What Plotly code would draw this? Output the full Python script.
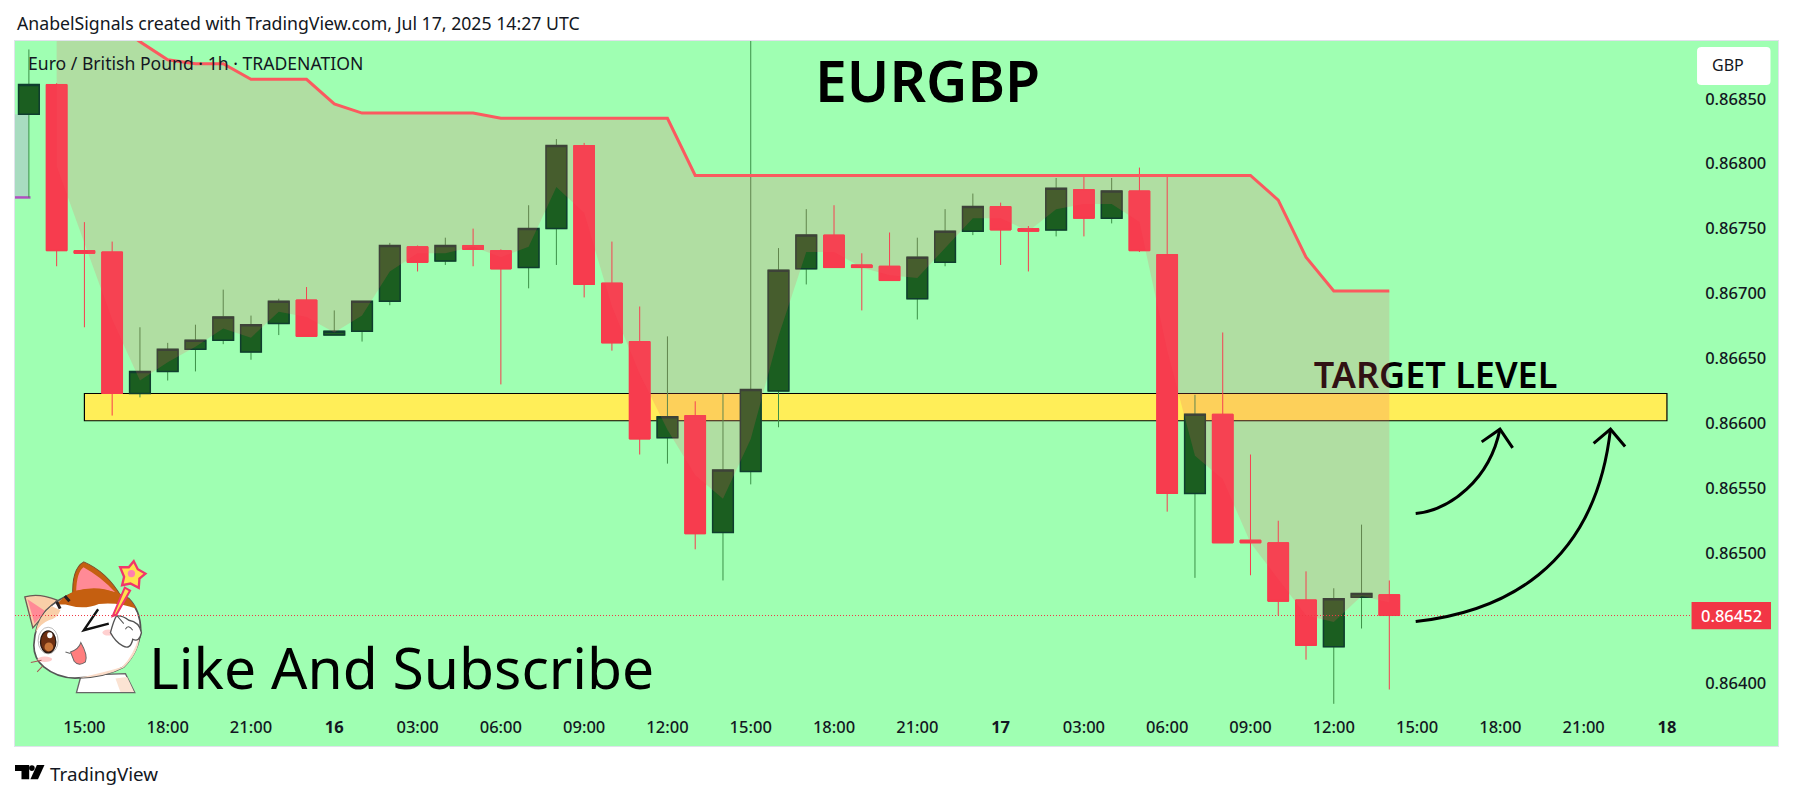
import base64
import pandas as pd
import plotly.graph_objects as go

# hourly candles, first one is Jul 15 13:00 UTC
start_time = "2025-07-15 13:00"
open_vals = [0.86838, 0.86861, 0.86733, 0.86732, 0.86623, 0.86640, 0.86657, 0.86664, 0.86655, 0.86677,
             0.86695, 0.86668, 0.86671, 0.86694, 0.86736, 0.86725, 0.86737, 0.86733, 0.86720, 0.86750,
             0.86814, 0.86708, 0.86663, 0.86589, 0.86606, 0.86516, 0.86563, 0.86625, 0.86719, 0.86745,
             0.86722, 0.86721, 0.86696, 0.86724, 0.86748, 0.86767, 0.86750, 0.86749, 0.86780, 0.86758,
             0.86779, 0.86730, 0.86546, 0.86607, 0.86510, 0.86508, 0.86464, 0.86428, 0.86466, 0.86468]
high_vals = [0.86888, 0.86862, 0.86755, 0.86740, 0.86674, 0.86662, 0.86676, 0.86703, 0.86683, 0.86696,
             0.86705, 0.86687, 0.86694, 0.86739, 0.86737, 0.86743, 0.86750, 0.86734, 0.86768, 0.86819,
             0.86816, 0.86740, 0.86690, 0.86667, 0.86617, 0.86623, 0.86900, 0.86735, 0.86765, 0.86768,
             0.86731, 0.86747, 0.86743, 0.86765, 0.86777, 0.86770, 0.86752, 0.86789, 0.86791, 0.86789,
             0.86797, 0.86791, 0.86622, 0.86670, 0.86576, 0.86525, 0.86486, 0.86473, 0.86522, 0.86479]
low_vals = [0.86774, 0.86721, 0.86674, 0.86606, 0.86620, 0.86633, 0.86640, 0.86661, 0.86649, 0.86668,
            0.86667, 0.86668, 0.86663, 0.86691, 0.86717, 0.86722, 0.86721, 0.86630, 0.86704, 0.86722,
            0.86697, 0.86656, 0.86576, 0.86569, 0.86503, 0.86479, 0.86553, 0.86597, 0.86707, 0.86720,
            0.86687, 0.86710, 0.86680, 0.86721, 0.86745, 0.86722, 0.86717, 0.86744, 0.86744, 0.86754,
            0.86732, 0.86532, 0.86481, 0.86508, 0.86483, 0.86452, 0.86418, 0.86384, 0.86442, 0.86395]
close_vals = [0.86861, 0.86733, 0.86731, 0.86623, 0.86640, 0.86657, 0.86664, 0.86682, 0.86676, 0.86694,
              0.86667, 0.86671, 0.86694, 0.86737, 0.86724, 0.86737, 0.86734, 0.86719, 0.86750, 0.86814,
              0.86707, 0.86662, 0.86588, 0.86605, 0.86515, 0.86564, 0.86626, 0.86718, 0.86745, 0.86720,
              0.86720, 0.86710, 0.86728, 0.86748, 0.86767, 0.86749, 0.86748, 0.86781, 0.86758, 0.86779,
              0.86733, 0.86546, 0.86607, 0.86508, 0.86508, 0.86463, 0.86429, 0.86465, 0.86469, 0.86452]

# red line and the lower edge of the shaded area, these start at the second candle
upper_line = [0.86940, 0.86920, 0.86909, 0.86894, 0.86880, 0.86877, 0.86877, 0.86865, 0.86865, 0.86865,
              0.86846, 0.86839, 0.86839, 0.86839, 0.86839, 0.86839, 0.86835, 0.86835, 0.86835, 0.86835,
              0.86835, 0.86835, 0.86835, 0.86791, 0.86791, 0.86791, 0.86791, 0.86791, 0.86791, 0.86791,
              0.86791, 0.86791, 0.86791, 0.86791, 0.86791, 0.86791, 0.86791, 0.86791, 0.86791, 0.86791,
              0.86791, 0.86791, 0.86791, 0.86791, 0.86772, 0.86728, 0.86702, 0.86702, 0.86702]
lower_edge = [0.86798, 0.86739, 0.86680, 0.86633, 0.86647, 0.86659, 0.86673, 0.86666, 0.86686, 0.86682,
              0.86670, 0.86683, 0.86717, 0.86731, 0.86731, 0.86736, 0.86728, 0.86736, 0.86782, 0.86762,
              0.86690, 0.86638, 0.86595, 0.86560, 0.86542, 0.86588, 0.86667, 0.86732, 0.86732, 0.86720,
              0.86714, 0.86712, 0.86735, 0.86758, 0.86758, 0.86748, 0.86765, 0.86769, 0.86769, 0.86755,
              0.86656, 0.86575, 0.86557, 0.86508, 0.86480, 0.86452, 0.86447, 0.86467, 0.86462]

price_ticks = [0.864, 0.865, 0.8655, 0.866, 0.8665, 0.867, 0.8675, 0.868, 0.8685]
time_ticks = ["2025-07-15 15:00", "2025-07-15 18:00", "2025-07-15 21:00", "2025-07-16 00:00", "2025-07-16 03:00",
              "2025-07-16 06:00", "2025-07-16 09:00", "2025-07-16 12:00", "2025-07-16 15:00", "2025-07-16 18:00",
              "2025-07-16 21:00", "2025-07-17 00:00", "2025-07-17 03:00", "2025-07-17 06:00", "2025-07-17 09:00",
              "2025-07-17 12:00", "2025-07-17 15:00", "2025-07-17 18:00", "2025-07-17 21:00", "2025-07-18 00:00"]
time_labels = ["15:00", "18:00", "21:00", "<b>16</b>", "03:00", "06:00", "09:00", "12:00", "15:00", "18:00",
               "21:00", "<b>17</b>", "03:00", "06:00", "09:00", "12:00", "15:00", "18:00", "21:00", "<b>18</b>"]

last_price = 0.86452
zone_top = 0.86623
zone_bottom = 0.86602
zone_start = "2025-07-15 15:00"
zone_end = "2025-07-18 00:00"

GREEN_BG = "#9fffb2"
RED = "#f73c4e"
FONT = "Noto Sans"
TEXT = "#131722"

W, H = 1793, 799
L, T, R, B = 14.5, 41, 1778.5, 745.7


# pixel position on the page to paper coordinates
def px(x):
    return (x - L) / (R - L)


def py(y):
    return (B - y) / (B - T)


def poly(points):
    return "M " + " L ".join(f"{px(x):.5f},{py(y):.5f}" for x, y in points)


def curve(start, c1, c2, end):
    return (f"M {px(start[0]):.5f},{py(start[1]):.5f} C {px(c1[0]):.5f},{py(c1[1]):.5f} "
            f"{px(c2[0]):.5f},{py(c2[1]):.5f} {px(end[0]):.5f},{py(end[1]):.5f}")


def page_text(text, x, y, size, color=TEXT, anchor="left", weight=400):
    return dict(text=text, x=px(x), y=py(y), xref="paper", yref="paper", showarrow=False,
                xanchor=anchor, yanchor="middle", font=dict(family=FONT, size=size, color=color, weight=weight))


# the sticker, coordinates are in its own box
cat_svg = """<svg xmlns="http://www.w3.org/2000/svg" viewBox="0 0 420 435" preserveAspectRatio="none">
<path d="M197 360 L183 412 L358 412 L330 355 Z" fill="#fff" stroke="#666" stroke-width="4"/>
<path d="M300 370 Q325 365 335 365 L356 410 L315 410 Z" fill="#fbe3d3"/>
<path d="M52 218 L28 125 Q70 112 125 135 Z" fill="#f9cfa8" stroke="#6b5b55" stroke-width="4"/>
<path d="M57 205 L36 132 L90 168 Z" fill="#ff8a96"/>
<path d="M172 125 Q168 40 205 20 Q275 50 318 125 Z" fill="#c55f10" stroke="#7a4a2a" stroke-width="3"/>
<path d="M182 108 Q184 50 204 36 Q258 65 300 112 Q240 88 182 108 Z" fill="#ff8a96"/>
<path d="M55 270 Q58 205 92 165 Q130 128 180 112 Q260 95 340 130 Q375 165 376 225 Q370 290 325 335 Q270 365 190 368 Q130 372 85 335 Q55 310 55 270 Z" fill="#fff" stroke="#555" stroke-width="5"/>
<path d="M320 335 Q355 300 372 240 Q372 290 325 337 Q270 365 190 368 Q270 350 320 335 Z" fill="#fbdcc8"/>
<path d="M122 148 Q150 118 182 106 Q260 92 330 122 Q350 135 362 160 Q310 140 250 146 Q205 165 150 148 Z" fill="#c55f10"/>
<path d="M60 232 Q68 185 108 152 L135 165 Q125 190 100 195 Q75 205 60 232 Z" fill="#f9cfa8"/>
<path d="M124 140 L134 160 M148 122 L162 138" stroke="#2a2020" stroke-width="9" fill="none"/>
<ellipse cx="98" cy="256" rx="30" ry="40" fill="#fff" stroke="#999" stroke-width="2"/>
<ellipse cx="98" cy="260" rx="23" ry="33" fill="#6d2f12" stroke="#2a1a14" stroke-width="4"/>
<ellipse cx="100" cy="275" rx="13" ry="13" fill="#c8763a"/>
<ellipse cx="103" cy="240" rx="8" ry="9" fill="#fff"/>
<path d="M248 162 L205 225 L280 205" fill="none" stroke="#111" stroke-width="7"/>
<path d="M165 290 Q190 282 196 262 Q218 300 210 320 Q190 335 176 318 Z" fill="#ff7e7e" stroke="#666" stroke-width="3"/>
<path d="M150 290 L165 295" stroke="#666" stroke-width="3"/>
<ellipse cx="88" cy="312" rx="22" ry="8" fill="#ffc9c9"/>
<ellipse cx="278" cy="232" rx="17" ry="9" fill="#ffd0d0"/>
<path d="M46 322 L78 315 M65 350 L82 332" stroke="#a55" stroke-width="3"/>
<path d="M285 232 Q295 195 303 182 Q322 180 340 195 Q372 200 378 232 Q372 262 352 252 Q345 285 322 272 Q300 260 285 232 Z" fill="#fff" stroke="#555" stroke-width="4"/>
<path d="M330 222 Q338 205 352 225 M305 182 L325 205" stroke="#555" stroke-width="3" fill="none"/>
<path d="M292 182 L328 97 L344 106 L303 178 Z" fill="#ffe14d" stroke="#f0366a" stroke-width="6"/>
<path d="M355 18 L367 42 L390 55 L372 70 L370 98 L345 85 L320 90 L326 65 L314 36 L340 36 Z" fill="#ffe14d" stroke="#f0366a" stroke-width="7"/>
<circle cx="348" cy="55" r="11" fill="#ff7eb0"/>
</svg>"""
cat_src = "data:image/svg+xml;base64," + base64.b64encode(cat_svg.encode()).decode()

times = pd.date_range(start_time, periods=len(open_vals), freq="h")
area_times = times[1:]
body_high = [max(o, c) for o, c in zip(open_vals, close_vals)]
body_low = [min(o, c) for o, c in zip(open_vals, close_vals)]

fig = go.Figure()

# wicks
fig.add_trace(go.Candlestick(
    x=times, open=open_vals, high=high_vals, low=low_vals, close=close_vals,
    increasing=dict(line=dict(color="#3c9148", width=1), fillcolor="#1b5e20"),
    decreasing=dict(line=dict(color=RED, width=1), fillcolor=RED),
    whiskerwidth=0,
))
# bodies again, green ones have a darker border
fig.add_trace(go.Candlestick(
    x=times, open=open_vals, high=body_high, low=body_low, close=close_vals,
    increasing=dict(line=dict(color="#0f3d2e", width=1.5), fillcolor="#1b5e20"),
    decreasing=dict(line=dict(color=RED, width=1), fillcolor=RED),
    whiskerwidth=0,
))

# goes before the shaded area so the area tints it
fig.add_trace(go.Scatter(
    x=["2025-07-17 15:40"], y=[0.86634], mode="text", text=["TARGET LEVEL"],
    textposition="middle center", textfont=dict(family=FONT, size=36, color="#000000", weight=600),
))

fig.add_trace(go.Scatter(x=area_times, y=lower_edge, mode="lines", line=dict(width=0)))
fig.add_trace(go.Scatter(
    x=area_times, y=upper_line, mode="lines", line=dict(width=0),
    fill="tonexty", fillcolor="rgba(244,90,98,0.2)",
))
fig.add_trace(go.Scatter(x=area_times, y=upper_line, mode="lines", line=dict(color="#fb5a5f", width=3)))

shapes = [
    # box cut off on the left edge
    dict(type="rect", xref="paper", yref="y", x0=0, x1=px(28.3), y0=0.86774, y1=0.86838, layer="below",
         fillcolor="#a8dcc0", line_width=0),
    dict(type="line", xref="paper", yref="y", x0=0, x1=px(30), y0=0.86774, y1=0.86774, layer="below",
         line=dict(color="#b04fc0", width=2.5)),
    # target zone
    dict(type="rect", x0=zone_start, x1=zone_end, y0=zone_bottom, y1=zone_top, layer="below",
         fillcolor="#ffee58", line=dict(color="#000000", width=1.2)),
    # last price line and its label
    dict(type="line", xref="paper", yref="y", x0=0, x1=px(1692), y0=last_price, y1=last_price,
         line=dict(color="#f23645", width=1, dash="1px,2px")),
    dict(type="rect", xref="paper", yref="paper", x0=px(1692), x1=px(1771.5), y0=py(601.7), y1=py(629),
         fillcolor="#f23645", line_width=0),
    # currency button
    dict(type="path", xref="paper", yref="paper", fillcolor="#ffffff", line_width=0,
         path=(f"M {px(1702):.5f},{py(47):.5f} L {px(1767):.5f},{py(47):.5f} Q {px(1771):.5f},{py(47):.5f} {px(1771):.5f},{py(51):.5f} "
               f"L {px(1771):.5f},{py(81):.5f} Q {px(1771):.5f},{py(85):.5f} {px(1767):.5f},{py(85):.5f} "
               f"L {px(1702):.5f},{py(85):.5f} Q {px(1697.5):.5f},{py(85):.5f} {px(1697.5):.5f},{py(81):.5f} "
               f"L {px(1697.5):.5f},{py(51):.5f} Q {px(1697.5):.5f},{py(47):.5f} {px(1702):.5f},{py(47):.5f} Z")),
    # hand drawn arrows
    dict(type="path", xref="paper", yref="paper", line=dict(color="#000000", width=3),
         path=curve((1416, 513.3), (1450, 510), (1490, 480), (1500.3, 429))),
    dict(type="path", xref="paper", yref="paper", line=dict(color="#000000", width=3),
         path=poly([(1482, 441.7), (1500.3, 429), (1513, 447.7)])),
    dict(type="path", xref="paper", yref="paper", line=dict(color="#000000", width=3),
         path=curve((1416, 621.3), (1500, 612), (1595, 570), (1610.9, 429))),
    dict(type="path", xref="paper", yref="paper", line=dict(color="#000000", width=3),
         path=poly([(1594, 443.3), (1610.9, 429), (1625.5, 446.3)])),
    # TradingView logo
    dict(type="path", xref="paper", yref="paper", fillcolor="#000000", line_width=0,
         path=poly([(14.5, 764.7), (28.7, 764.7), (28.7, 779), (21, 779), (21, 770.7), (14.5, 770.7)]) + " Z"),
    dict(type="path", xref="paper", yref="paper", fillcolor="#000000", line_width=0,
         path=poly([(44, 764.7), (37.5, 779), (29.9, 779), (36.4, 764.7)]) + " Z"),
    dict(type="circle", xref="paper", yref="paper", fillcolor="#000000", line_width=0,
         x0=px(28.6), x1=px(34.2), y0=py(765), y1=py(770.6)),
]

annotations = [
    page_text("AnabelSignals created with TradingView.com, Jul 17, 2025 14:27 UTC", 14, 22.7, 17.7, "#131722"),
    page_text("Euro / British Pound · 1h · TRADENATION", 25.5, 63, 17.6),
    page_text("EURGBP", 927.5, 80, 57, "#000000", "center", 600),
    page_text("Like And Subscribe", 147, 667, 57, "#000000"),
    page_text("GBP", 1710.5, 65, 16, "#131722"),
    page_text("0.86452", 1764.5, 615.5, 16.5, "#ffffff", "right", 500),
    page_text("TradingView", 48, 773.7, 18.8, "#131722"),
]

fig.update_layout(
    width=W, height=H,
    margin=dict(l=L, r=W - R, t=T, b=H - B, pad=0),
    paper_bgcolor="#ffffff",
    plot_bgcolor=GREEN_BG,
    showlegend=False,
    hovermode=False,
    boxgap=0.255,
    boxgroupgap=0,
    shapes=shapes,
    annotations=annotations,
    images=[dict(source=cat_src, xref="paper", yref="paper", x=px(15), y=py(555),
                 sizex=px(155) - px(15), sizey=py(555) - py(700), xanchor="left", yanchor="top",
                 sizing="stretch", layer="above")],
    font=dict(family=FONT, color=TEXT, size=16),
)
fig.update_xaxes(
    type="date", range=["2025-07-15 12:30", "2025-07-18 04:00"],
    rangeslider_visible=False, showgrid=False, zeroline=False,
    tickmode="array", tickvals=time_ticks, ticktext=time_labels,
    ticklabelposition="inside", ticks="", ticklabelstandoff=10,
    tickfont=dict(family=FONT, size=16.5, color=TEXT, weight=500),
    showline=True, linecolor="#e0e3eb", mirror=True,
)
fig.update_yaxes(
    range=[0.863515, 0.868945], side="right",
    showgrid=False, zeroline=False,
    tickmode="array", tickvals=price_ticks, tickformat=".5f",
    ticklabelposition="inside", ticks="", ticklabelstandoff=12,
    tickfont=dict(family=FONT, size=16.5, color=TEXT, weight=500),
    showline=True, linecolor="#e0e3eb", mirror=True,
)

fig.write_html("out.html", config=dict(displayModeBar=False),
               post_script="document.body.style.margin='0';document.body.style.overflow='hidden';")
